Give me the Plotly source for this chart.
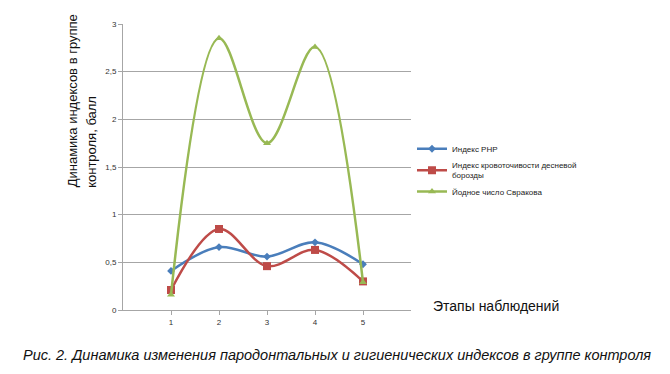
import plotly.graph_objects as go

stages = [1, 2, 3, 4, 5]
stage_labels = ["1", "2", "3", "4", "5"]
php = [0.41, 0.66, 0.56, 0.71, 0.48]
bleeding = [0.21, 0.85, 0.46, 0.63, 0.30]
schiller = [0.16, 2.85, 1.75, 2.76, 0.29]

names = ["Индекс PHP", "Индекс кровоточивости десневой<br>борозды", "Йодное число Свракова"]
colors = ["#4A7EBB", "#BE4B48", "#98B954"]
symbols = ["diamond", "square", "triangle-up"]
sizes = [6, 8, 7]

fig = go.Figure()
for name, ys, c, s, sz in zip(names, [php, bleeding, schiller], colors, symbols, sizes):
    fig.add_trace(go.Scatter(
        x=stages, y=ys, name=name, mode="lines+markers",
        line=dict(color=c, width=2.5, shape="spline", smoothing=1),
        marker=dict(symbol=s, size=sz, color=c),
    ))

grid = "#A6A6A6"
# page body has an 8px margin, so the figure is 8px smaller and shifted
W, H = 662, 366
L, T, PW, PH = 115, 14, 288, 288


def px(xp):
    return (xp - 8 - L) / PW


def py(yp):
    return (T + PH - (yp - 8)) / PH


title_lines = ["Динамика индексов в группе", "контроля, балл"]
title_x = [72, 92]

annotations = [
    dict(text=t, textangle=-90, xref="paper", yref="paper", x=px(xx), y=py(189),
         xanchor="center", yanchor="bottom", showarrow=False,
         font=dict(size=13, color="#111111"))
    for t, xx in zip(title_lines, title_x)
]
annotations += [
    dict(text="Этапы наблюдений", xref="paper", yref="paper",
         x=px(431), y=py(306), xanchor="left", yanchor="middle",
         showarrow=False, font=dict(size=14, color="#111111")),
    dict(text="<i>Рис. 2. Динамика изменения пародонтальных и гигиенических индексов в группе контроля</i>",
         xref="paper", yref="paper", x=px(337), y=py(355),
         xanchor="center", yanchor="middle", showarrow=False,
         font=dict(size=14.5, color="#111111")),
]

fig.update_layout(
    width=W, height=H,
    margin=dict(l=L, r=W - L - PW, t=T, b=H - T - PH),
    paper_bgcolor="white", plot_bgcolor="white",
    separators=", ",
    font=dict(family="Liberation Sans, Arial, sans-serif", color="#222222"),
    showlegend=True,
    legend=dict(x=px(412), y=py(133), xanchor="left", yanchor="top",
                font=dict(size=8, color="#222222"),
                itemwidth=30, bgcolor="rgba(0,0,0,0)"),
    xaxis=dict(range=[0, 6], tickvals=stages, ticktext=stage_labels,
               showgrid=False, showline=True, linecolor=grid, linewidth=1,
               ticks="outside", ticklen=4, tickcolor=grid,
               tickfont=dict(size=8, color="#333333"), zeroline=False),
    yaxis=dict(range=[0, 3], dtick=0.5, showgrid=True, gridcolor=grid, gridwidth=1,
               showline=True, linecolor=grid, linewidth=1,
               ticks="outside", ticklen=4, tickcolor=grid,
               tickfont=dict(size=8, color="#333333"), zeroline=False),
    annotations=annotations,
)

fig.write_html("out.html")
